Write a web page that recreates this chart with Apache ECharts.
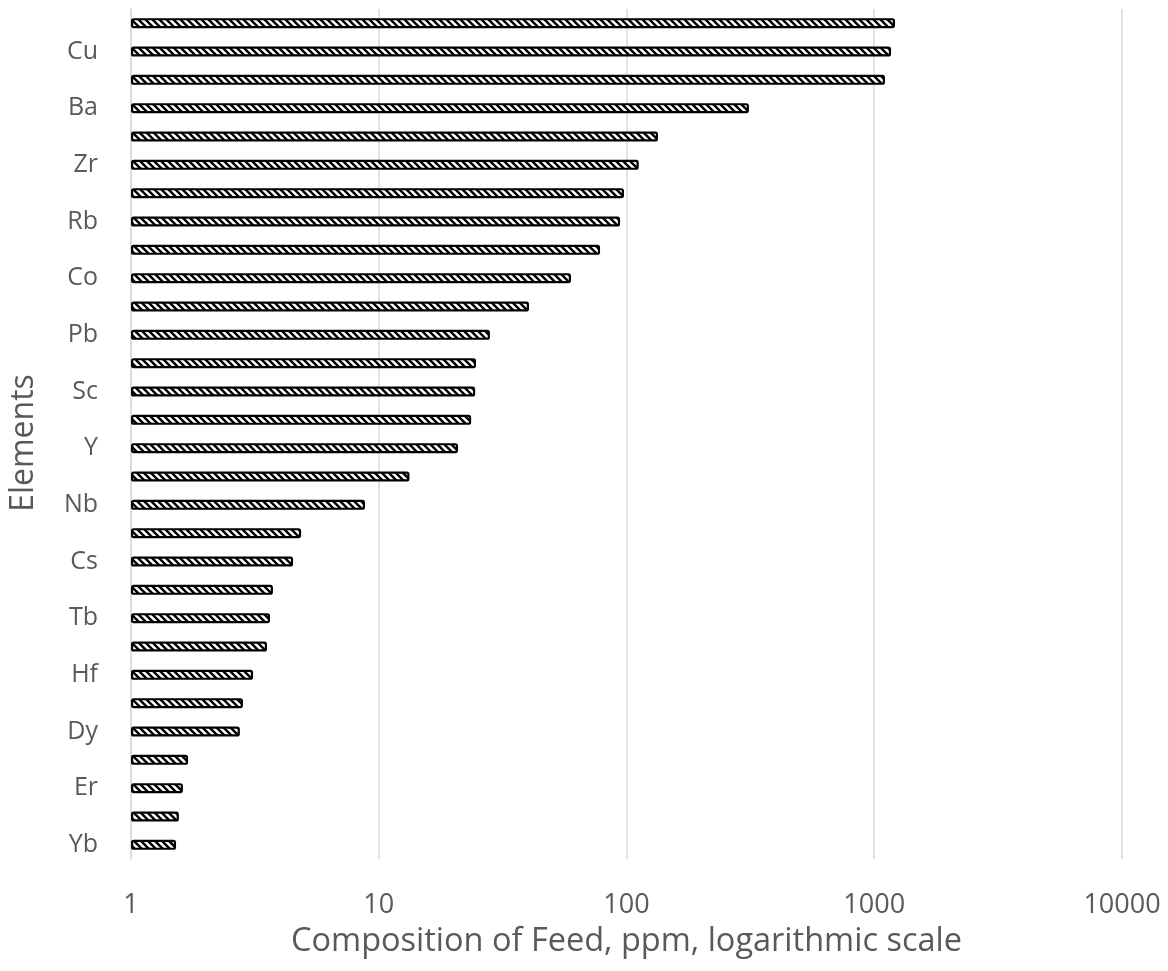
<!DOCTYPE html>
<html>
<head>
<meta charset="utf-8">
<script src="https://cdn.jsdelivr.net/npm/echarts@6/dist/echarts.min.js"></script>
<style>
  html, body { margin: 0; padding: 0; background: #ffffff; }
  #chart { width: 1168px; height: 971px; }
</style>
</head>
<body>
<div id="chart"></div>
<script>
// Elements in the feed, highest concentration first (ppm)
const elements = ['Zn', 'Cu', 'Cr', 'Ba', 'Sr', 'Zr', 'V', 'Rb', 'Ni', 'Co',
                  'Ce', 'Pb', 'La', 'Sc', 'Nd', 'Y', 'Ga', 'Nb', 'Th', 'Cs',
                  'Pr', 'Tb', 'Sm', 'Hf', 'Gd', 'Dy', 'U', 'Er', 'Ta', 'Yb'];
const ppm = [1213, 1169, 1105, 312, 134, 112, 97.7, 94.2, 78.2, 59.7,
             40.4, 28.1, 24.7, 24.5, 23.6, 20.9, 13.3, 8.8, 4.86, 4.51,
             3.74, 3.64, 3.54, 3.11, 2.83, 2.75, 1.70, 1.62, 1.56, 1.52];
const xAxisTitle = 'Composition of Feed, ppm, logarithmic scale';
const yAxisTitle = 'Elements';

// Diagonal hatch fill for the bars
function hatchTile() {
  const s = 7;
  const c = document.createElement('canvas');
  c.width = s; c.height = s;
  const g = c.getContext('2d');
  g.fillStyle = '#ffffff';
  g.fillRect(0, 0, s, s);
  g.strokeStyle = '#000000';
  g.lineWidth = 2.4;
  g.beginPath();
  g.moveTo(-s, 0); g.lineTo(s, 2 * s);
  g.moveTo(0, 0); g.lineTo(s, s);
  g.moveTo(0, -s); g.lineTo(2 * s, s);
  g.stroke();
  return c;
}

const font = '"Open Sans", "Liberation Sans", sans-serif';
const grey = '#595959';

const chart = echarts.init(document.getElementById('chart'), null, { renderer: 'canvas' });
chart.setOption({
  animation: false,
  backgroundColor: '#ffffff',
  grid: { left: 131, right: 46, top: 9, bottom: 112, containLabel: false },
  graphic: [{
    type: 'text',
    x: 24,
    y: 443,
    rotation: Math.PI / 2,
    style: {
      text: yAxisTitle,
      fontFamily: font,
      fontSize: 32,
      fill: grey,
      align: 'center',
      verticalAlign: 'middle'
    }
  }],
  xAxis: {
    type: 'log',
    logBase: 10,
    min: 1,
    max: 10000,
    name: xAxisTitle,
    nameLocation: 'middle',
    nameGap: 66,
    nameTextStyle: { fontFamily: font, fontSize: 32.5, color: grey },
    axisLine: { show: false },
    axisTick: { show: false },
    axisLabel: {
      fontFamily: font, fontSize: 27, color: grey, margin: 33,
      formatter: function (v) { return String(Math.round(v)); }
    },
    splitLine: { show: true, lineStyle: { color: '#d9d9d9', width: 1.5 } }
  },
  yAxis: {
    type: 'category',
    inverse: true,
    data: elements,
    axisLine: { show: true, lineStyle: { color: '#d9d9d9', width: 1.5 } },
    axisTick: { show: false },
    axisLabel: {
      fontFamily: font, fontSize: 25, color: grey, margin: 33,
      interval: function (index) { return index % 2 === 1; }
    }
  },
  series: [{
    type: 'bar',
    data: ppm,
    barWidth: 10,
    itemStyle: {
      color: { image: hatchTile(), repeat: 'repeat' },
      borderColor: '#000000',
      borderWidth: 2.2,
      borderRadius: 1.5
    }
  }]
});
</script>
</body>
</html>
